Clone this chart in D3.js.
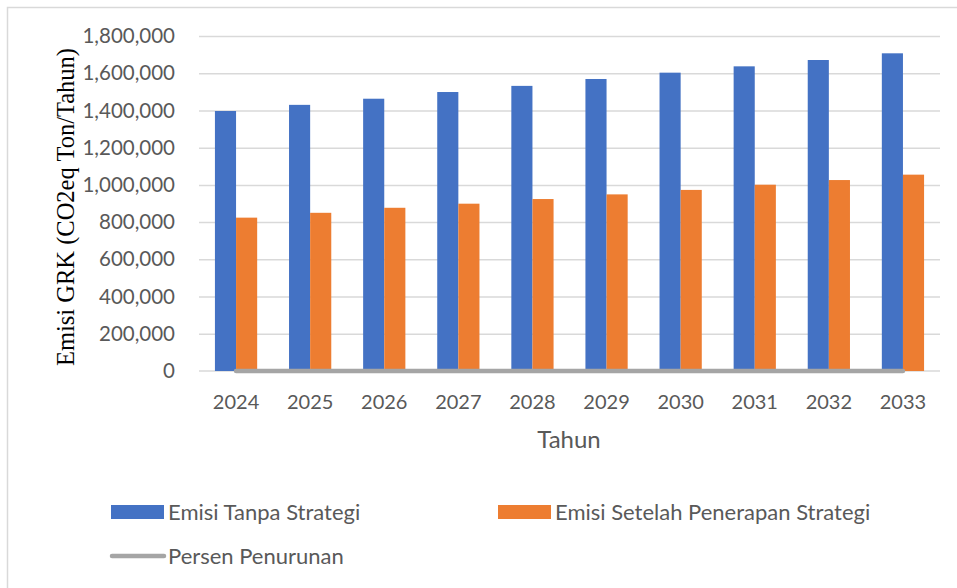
<!DOCTYPE html>
<html>
<head>
<meta charset="utf-8">
<script src="https://cdn.jsdelivr.net/npm/d3@7"></script>
<style>
  body { margin: 0; background: #fff; }
  svg { display: block; }
  .tick text { font-family: Lato, "Open Sans", sans-serif; fill: #595959; }
</style>
</head>
<body>
<svg id="chart" width="957" height="588"></svg>
<script>
const years = ["2024", "2025", "2026", "2027", "2028", "2029", "2030", "2031", "2032", "2033"];
const emisiTanpa = [1397000, 1430000, 1463000, 1499000, 1532000, 1569000, 1603000, 1637000, 1671000, 1707000];
const emisiSetelah = [824000, 850000, 877000, 899000, 924000, 949000, 973000, 1001000, 1026000, 1055000];
const persenPenurunan = [41, 41, 40, 40, 40, 40, 39, 39, 39, 38];
const yTicks = [0, 200000, 400000, 600000, 800000, 1000000, 1200000, 1400000, 1600000, 1800000];
const seriesNames = ["Emisi Tanpa Strategi", "Emisi Setelah Penerapan Strategi", "Persen Penurunan"];
const colors = ["#4472C4", "#ED7D31", "#A5A5A5"];

const svg = d3.select("#chart");
const plotLeft = 199, plotRight = 940, plotTop = 36, plotBottom = 371;

// frame
svg.append("rect")
    .attr("x", 7.5).attr("y", 7.5)
    .attr("width", 1000).attr("height", 1000)
    .attr("fill", "none")
    .attr("stroke", "#D9D9D9")
    .attr("stroke-width", 1.5);

const x = d3.scaleBand()
    .domain(years)
    .range([plotLeft, plotRight])
    .paddingInner(0.43)
    .paddingOuter(0.215);

const xSub = d3.scaleBand()
    .domain([0, 1])
    .range([0, x.bandwidth()]);

const y = d3.scaleLinear()
    .domain([0, 1800000])
    .range([plotBottom, plotTop]);

// gridlines
svg.append("g")
    .attr("transform", `translate(${plotLeft},0)`)
    .call(d3.axisLeft(y).tickValues(yTicks.slice(1)).tickSize(-(plotRight - plotLeft)).tickFormat(""))
    .call(g => g.select(".domain").remove())
    .call(g => g.selectAll("line").attr("stroke", "#D9D9D9").attr("stroke-width", 1.5));

// y labels
svg.append("g")
    .attr("transform", `translate(${plotLeft},0)`)
    .call(d3.axisLeft(y).tickValues(yTicks).tickSize(0).tickPadding(24).tickFormat(d3.format(",")))
    .call(g => g.select(".domain").remove())
    .call(g => g.selectAll("text").attr("font-size", 20.5));

// baseline
svg.append("line")
    .attr("x1", plotLeft).attr("x2", plotRight)
    .attr("y1", y(0)).attr("y2", y(0))
    .attr("stroke", "#D9D9D9")
    .attr("stroke-width", 1.5);

// bars
const groups = svg.selectAll(".year")
    .data(years)
    .join("g")
    .attr("class", "year")
    .attr("transform", d => `translate(${x(d)},0)`);

groups.append("rect")
    .attr("x", xSub(0))
    .attr("width", xSub.bandwidth())
    .attr("y", (d, i) => y(emisiTanpa[i]))
    .attr("height", (d, i) => y(0) - y(emisiTanpa[i]))
    .attr("fill", colors[0]);

groups.append("rect")
    .attr("x", xSub(1))
    .attr("width", xSub.bandwidth())
    .attr("y", (d, i) => y(emisiSetelah[i]))
    .attr("height", (d, i) => y(0) - y(emisiSetelah[i]))
    .attr("fill", colors[1]);

// percent line
const line = d3.line()
    .x((d, i) => x(years[i]) + x.bandwidth() / 2)
    .y(d => y(d));

svg.append("path")
    .datum(persenPenurunan)
    .attr("d", line)
    .attr("fill", "none")
    .attr("stroke", colors[2])
    .attr("stroke-width", 4.5)
    .attr("stroke-linecap", "round");

// x labels
svg.append("g")
    .attr("transform", `translate(0,${plotBottom})`)
    .call(d3.axisBottom(x).tickSize(0).tickPadding(24))
    .call(g => g.select(".domain").remove())
    .call(g => g.selectAll("text").attr("font-size", 20));

// axis titles
svg.append("text")
    .attr("x", 569)
    .attr("y", 448)
    .attr("text-anchor", "middle")
    .attr("font-family", "Lato, 'Open Sans', sans-serif")
    .attr("font-size", 24)
    .attr("fill", "#595959")
    .text("Tahun");

svg.append("text")
    .attr("transform", "translate(74,207) rotate(-90)")
    .attr("text-anchor", "middle")
    .attr("font-family", "'Liberation Serif', 'Times New Roman', serif")
    .attr("font-size", 24.5)
    .attr("fill", "#000")
    .text("Emisi GRK (CO2eq Ton/Tahun)");

// legend
const legendPos = [[111, 512], [498, 512], [111, 556]];
const legend = svg.selectAll(".legend-item")
    .data(seriesNames)
    .join("g")
    .attr("class", "legend-item")
    .attr("transform", (d, i) => `translate(${legendPos[i][0]},${legendPos[i][1]})`);

legend.filter((d, i) => i < 2).append("rect")
    .attr("x", 0).attr("y", -7)
    .attr("width", 53).attr("height", 14)
    .attr("fill", (d, i) => colors[i]);

legend.filter((d, i) => i === 2).append("line")
    .attr("x1", 1).attr("x2", 53)
    .attr("y1", 0).attr("y2", 0)
    .attr("stroke", colors[2])
    .attr("stroke-width", 4.5)
    .attr("stroke-linecap", "round");

legend.append("text")
    .attr("x", 57)
    .attr("y", 7.5)
    .attr("font-family", "Lato, 'Open Sans', sans-serif")
    .attr("font-size", 22)
    .attr("fill", "#595959")
    .text(d => d);
</script>
</body>
</html>
